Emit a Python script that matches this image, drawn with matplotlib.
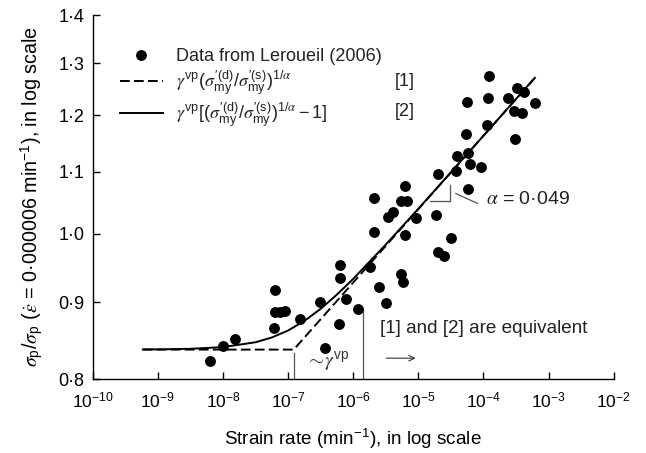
import matplotlib
matplotlib.use("Agg")
import matplotlib.pyplot as plt
from matplotlib.ticker import LogLocator, NullLocator, FixedLocator, FixedFormatter

plt.rcParams['font.family'] = ['Liberation Sans', 'DejaVu Sans']
plt.rcParams['mathtext.fontset'] = 'custom'
plt.rcParams['mathtext.rm'] = 'Liberation Sans'
plt.rcParams['mathtext.sf'] = 'Liberation Sans'
plt.rcParams['mathtext.it'] = 'STIXGeneral:italic'
plt.rcParams['mathtext.bf'] = 'Liberation Sans:bold'

# ---- data ----
strain_rate = [6.22e-9, 1.0e-8, 1.51e-8, 6.31e-8, 6.38e-8, 7.62e-8, 8.87e-8, 6.05e-8,
               1.55e-7, 3.08e-7, 3.75e-7, 6.38e-7, 6.38e-7, 7.62e-7, 6.15e-7, 1.19e-6,
               1.80e-6, 2.48e-6, 3.14e-6, 5.35e-6, 5.87e-6, 2.05e-6, 6.31e-6, 3.14e-5,
               2.04e-5, 2.48e-5, 2.05e-6, 5.43e-6, 6.78e-6, 6.31e-6, 4.12e-6, 3.37e-6,
               9.35e-6, 1.85e-5, 1.97e-5, 3.78e-5, 5.87e-5, 6.22e-5, 9.08e-5, 3.98e-5,
               5.87e-5, 5.35e-5, 1.15e-4, 3.06e-4, 2.96e-4, 3.88e-4, 6.15e-4, 3.33e-4,
               4.22e-4, 2.39e-4, 1.18e-4, 5.68e-5, 1.22e-4]
stress_ratio = [0.822, 0.841, 0.851, 0.918, 0.887, 0.887, 0.888, 0.865,
                0.877, 0.900, 0.839, 0.953, 0.934, 0.905, 0.871, 0.891,
                0.950, 0.922, 0.899, 0.940, 0.929, 1.003, 0.999, 0.994,
                0.973, 0.966, 1.056, 1.052, 1.052, 1.077, 1.034, 1.026,
                1.025, 1.030, 1.096, 1.101, 1.071, 1.113, 1.109, 1.127,
                1.132, 1.166, 1.182, 1.157, 1.207, 1.204, 1.222, 1.251,
                1.243, 1.232, 1.232, 1.225, 1.275]

# model [1] (dashed)
dashed_rate = [5.89e-10, 1.22e-7, 6.15e-4]
dashed_ratio = [0.837, 0.837, 1.271]

# model [2] (solid)
solid_rate = [5.89e-10, 1e-9, 3.16e-9, 1e-8, 3.16e-8, 5.62e-8, 1e-7, 1.78e-7, 3.16e-7,
              5.62e-7, 1e-6, 3.16e-6, 1e-5, 3.16e-5, 1e-4, 3.16e-4, 6.15e-4]
solid_ratio = [0.8372, 0.8373, 0.8380, 0.8402, 0.8465, 0.8527, 0.8619, 0.8747, 0.8911,
               0.9108, 0.9331, 0.9836, 1.0393, 1.0992, 1.1628, 1.2304, 1.2711]

y_ticks = [0.8, 0.9, 1.0, 1.1, 1.2, 1.3, 1.4]
y_tick_labels = ['0·8', '0·9', '1·0', '1·1', '1·2', '1·3', '1·4']

# annotation anchors
gvp_marks_x = [1.22e-7, 1.43e-6]
gvp_marks_top = [0.8326, 0.8895]
gvp_label_pos = (4.03e-7, 0.821)
equiv_label_pos = (2.54e-6, 0.865)
equiv_arrow = ((3.22e-6, 0.826), (9.08e-6, 0.826))
slope_h = ([1.507e-5, 3.03e-5], [1.052, 1.052])
slope_v = ([3.03e-5, 3.03e-5], [1.052, 1.078])
slope_leader = ([3.75e-5, 8.09e-5], [1.064, 1.048])
alpha_label_pos = (1.08e-4, 1.0535)

W, H = 646, 453
fig = plt.figure(figsize=(W / 100, H / 100), dpi=100)
ax = fig.add_axes([92.7 / W, 1 - 379 / H, (613.7 - 92.7) / W, (379 - 15) / H])

h_data, = ax.plot(strain_rate, stress_ratio, 'o', color='black', ms=6.8, ls='none', zorder=3)
h_dash, = ax.plot(dashed_rate, dashed_ratio, color='black', lw=1.4, dashes=(5, 2.2))
h_solid, = ax.plot(solid_rate, solid_ratio, color='black', lw=1.4)

ax.set_xscale('log')
ax.set_yscale('log')
ax.set_xlim(1e-10, 1e-2)
ax.set_ylim(0.8, 1.4)

ax.xaxis.set_major_locator(LogLocator(base=10, numticks=20))
ax.xaxis.set_minor_locator(NullLocator())
ax.yaxis.set_major_locator(FixedLocator(y_ticks))
ax.yaxis.set_major_formatter(FixedFormatter(y_tick_labels))
ax.yaxis.set_minor_locator(NullLocator())

for s in ['top', 'right']:
    ax.spines[s].set_visible(False)
for s in ['left', 'bottom']:
    ax.spines[s].set_linewidth(1.0)
ax.tick_params(axis='both', direction='in', length=5, width=1.0, colors='black')
ax.tick_params(axis='x', pad=8, labelsize=12.5)
ax.tick_params(axis='y', pad=6, labelsize=13)

ax.set_xlabel('Strain rate (min$^{-1}$), in log scale', fontsize=13.6, labelpad=12)
ax.set_ylabel(r'$\sigma_{\mathrm{p}}/\sigma_{\mathrm{p}}$ ($\dot{\varepsilon}$ = 0·000006 min$^{-1}$), in log scale',
              fontsize=14.2, labelpad=9)

# gamma_vp marks
thin = dict(color='#555555', lw=0.9)
for xv, top in zip(gvp_marks_x, gvp_marks_top):
    ax.plot([xv, xv], [0.8, top], **thin)
ax.text(gvp_label_pos[0], gvp_label_pos[1], r'$\sim\!\gamma^{\mathrm{vp}}$', fontsize=14,
        ha='center', va='center', color='#333333')

ax.text(equiv_label_pos[0], equiv_label_pos[1], '[1] and [2] are equivalent', fontsize=13.6,
        ha='left', va='center', color='#222222')
ax.annotate('', xy=equiv_arrow[1], xytext=equiv_arrow[0],
            arrowprops=dict(arrowstyle='->', color='#333333', lw=0.8, shrinkA=0, shrinkB=0))

ax.plot(*slope_h, **thin)
ax.plot(*slope_v, **thin)
ax.plot(*slope_leader, **thin)
ax.text(alpha_label_pos[0], alpha_label_pos[1], r'$\alpha$ = 0·049', fontsize=14,
        ha='left', va='center', color='#222222')

labels = ['Data from Leroueil (2006)',
          r'$\gamma^{\mathrm{vp}}(\sigma^{\prime(\mathrm{d})}_{\mathrm{my}}/\sigma^{\prime(\mathrm{s})}_{\mathrm{my}})^{1/\alpha}$',
          r'$\gamma^{\mathrm{vp}}[(\sigma^{\prime(\mathrm{d})}_{\mathrm{my}}/\sigma^{\prime(\mathrm{s})}_{\mathrm{my}})^{1/\alpha}-1]$']
leg = ax.legend([h_data, h_dash, h_solid], labels, loc='upper left',
                bbox_to_anchor=((120 - 92.7) / 521, (379 - 48) / 364),
                frameon=False, fontsize=13, handlelength=2.38, handletextpad=0.7,
                labelspacing=0.2, borderpad=0, borderaxespad=0, numpoints=1)
for t in leg.get_texts():
    t.set_color('#222222')

ax.text((395 - 92.7) / 521, (379 - 81) / 364, '[1]', transform=ax.transAxes, fontsize=13,
        ha='left', va='center', color='#222222')
ax.text((395 - 92.7) / 521, (379 - 111.5) / 364, '[2]', transform=ax.transAxes, fontsize=13,
        ha='left', va='center', color='#222222')

fig.savefig('out.png', dpi=100)
